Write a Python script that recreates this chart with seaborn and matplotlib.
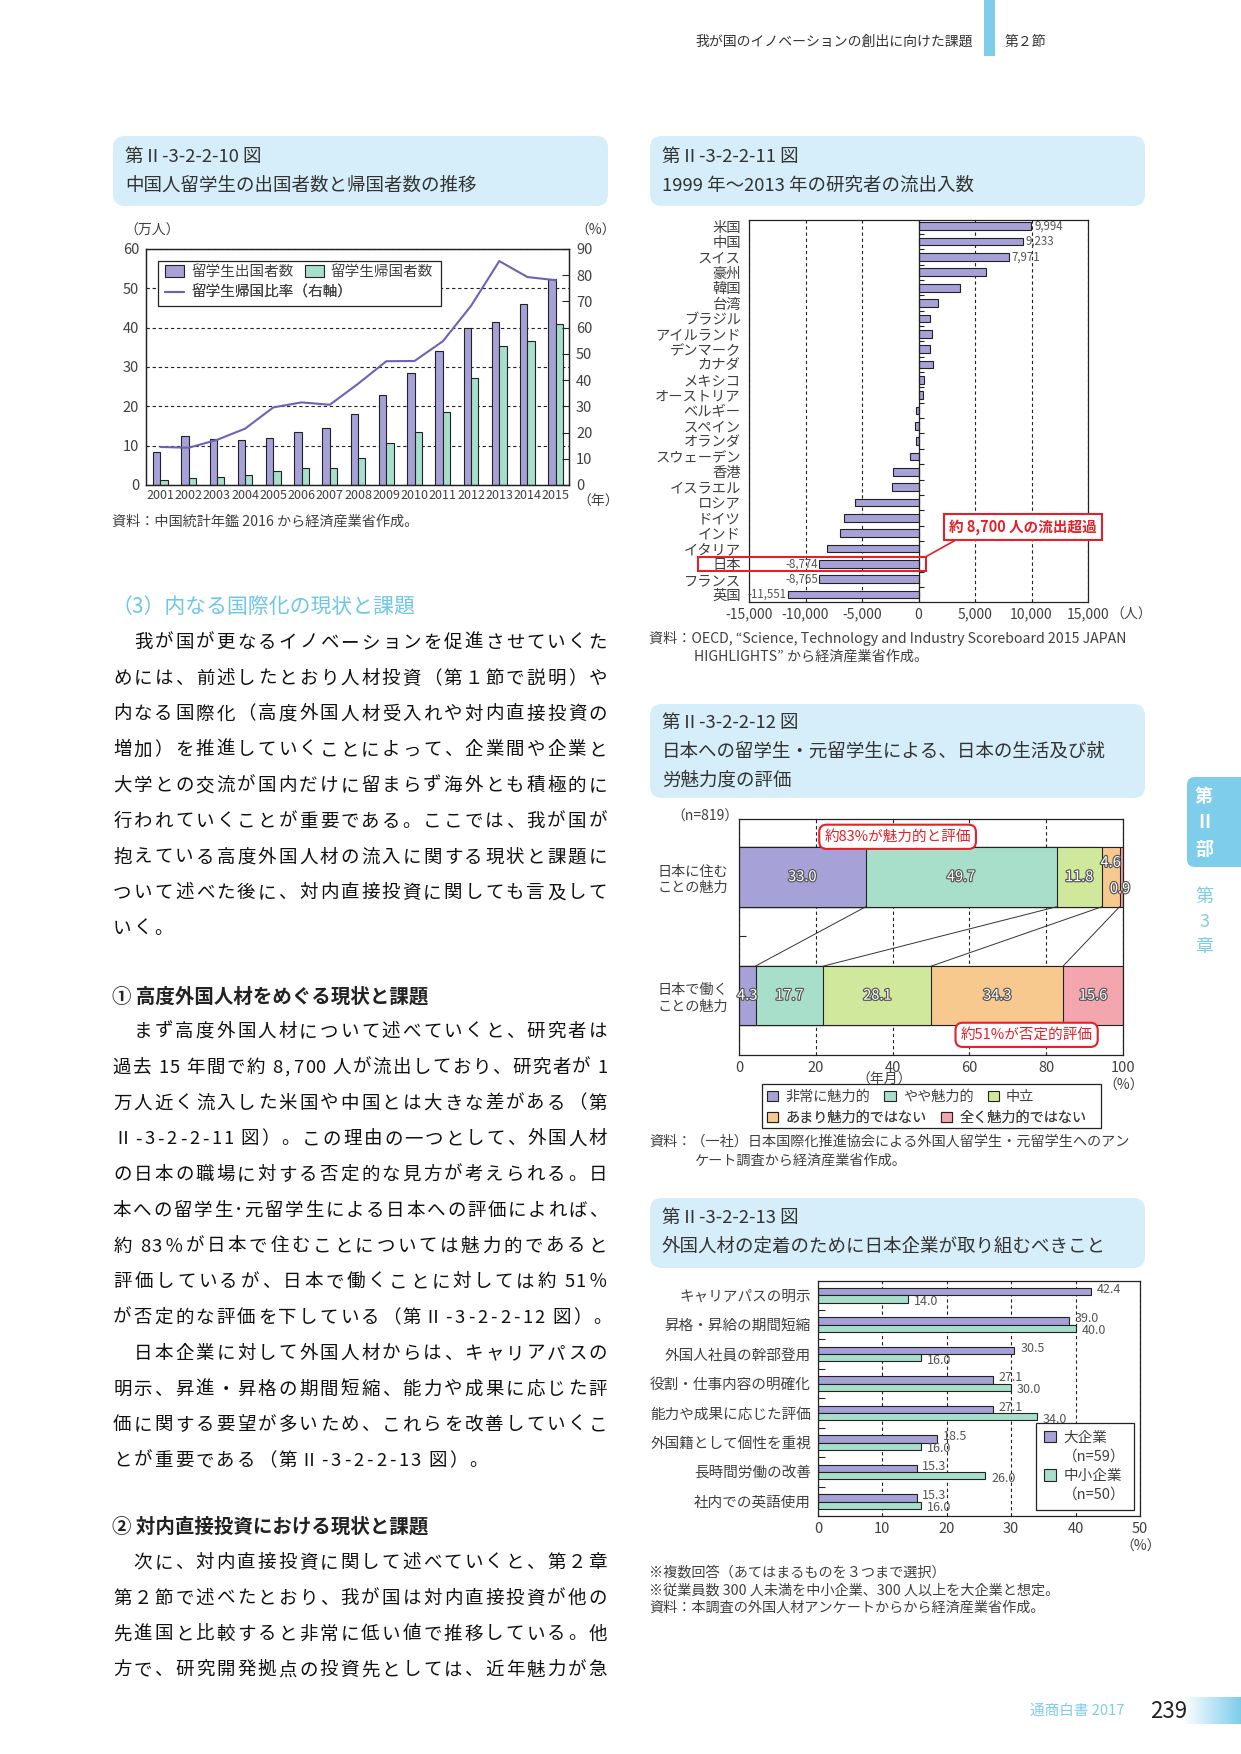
import numpy as np
import pandas as pd
import seaborn as sns
import matplotlib.pyplot as plt
import matplotlib.patheffects as pe
from matplotlib.patches import Patch, Rectangle, FancyBboxPatch
from matplotlib.lines import Line2D
from matplotlib.colors import LinearSegmentedColormap

# Стиль
sns.set_style("white")
plt.rcParams['font.family'] = ['Noto Sans CJK JP', 'DejaVu Sans']
plt.rcParams['axes.edgecolor'] = '#222222'
plt.rcParams['axes.linewidth'] = 0.9

# ---- данные: 第Ⅱ-3-2-2-10 図 ----
years = ['2001', '2002', '2003', '2004', '2005', '2006', '2007', '2008',
         '2009', '2010', '2011', '2012', '2013', '2014', '2015']
outbound = [8.4, 12.5, 11.7, 11.4, 11.9, 13.4, 14.4, 18.0, 22.9, 28.5, 34.0, 39.9, 41.4, 45.9, 52.3]
returned = [1.2, 1.8, 2.0, 2.5, 3.5, 4.2, 4.4, 6.9, 10.8, 13.5, 18.6, 27.3, 35.3, 36.5, 40.9]
return_ratio = [14.5, 14.2, 17.2, 21.5, 29.6, 31.5, 30.6, 38.6, 47.2, 47.3, 54.8, 68.3, 85.4, 79.3, 78.1]

# ---- данные: 第Ⅱ-3-2-2-11 図 ----
countries = ['米国', '中国', 'スイス', '豪州', '韓国', '台湾', 'ブラジル', 'アイルランド',
             'デンマーク', 'カナダ', 'メキシコ', 'オーストリア', 'ベルギー', 'スペイン',
             'オランダ', 'スウェーデン', '香港', 'イスラエル', 'ロシア', 'ドイツ', 'インド',
             'イタリア', '日本', 'フランス', '英国']
flows = [9994, 9233, 7971, 6000, 3700, 1750, 1030, 1210, 1030, 1300, 500, 410,
         -210, -300, -210, -740, -2250, -2340, -5600, -6600, -6950, -8100,
         -8774, -8765, -11551]
labeled = ['米国', '中国', 'スイス', '日本', 'フランス', '英国']

# ---- данные: 第Ⅱ-3-2-2-12 図 ----
items = ['日本に住む\nことの魅力', '日本で働く\nことの魅力']
levels = ['非常に魅力的', 'やや魅力的', '中立', 'あまり魅力的ではない', '全く魅力的ではない']
live = [33.0, 49.7, 11.8, 4.6, 0.9]
work = [4.3, 17.7, 28.1, 34.3, 15.6]

# ---- данные: 第Ⅱ-3-2-2-13 図 ----
measures = ['キャリアパスの明示', '昇格・昇給の期間短縮', '外国人社員の幹部登用',
            '役割・仕事内容の明確化', '能力や成果に応じた評価', '外国籍として個性を重視',
            '長時間労働の改善', '社内での英語使用']
large = [42.4, 39.0, 30.5, 27.1, 27.1, 18.5, 15.3, 15.3]
small = [14.0, 40.0, 16.0, 30.0, 34.0, 16.0, 26.0, 16.0]

# цвета
PURPLE = '#a6a2d8'
GREEN = '#a7dfcb'
LGREEN = '#cfe89c'
ORANGE = '#f8c98f'
PINK = '#f4a6ae'
LINE = '#6c62b8'
EDGE = '#222222'
RED = '#e5202a'
GRAY = '#404040'
TITLEBG = '#d6eef9'
BLUE = '#7dcdeb'
DASH = (0, (3, 2.5))

W, H = 1241, 1754
fig = plt.figure(figsize=(W / 100, H / 100), dpi=100)


def fx(x):
    return x / W


def fy(y):
    return 1 - y / H


def add_ax(x0, y0, x1, y1):
    return fig.add_axes([fx(x0), fy(y1), (x1 - x0) / W, (y1 - y0) / H])


def txt(x, y, s, size=10.2, color=GRAY, **kw):
    kw.setdefault('va', 'center')
    return fig.text(fx(x), fy(y), s, fontsize=size, color=color, **kw)


def box(x0, y0, x1, y1, fc='none', ec=EDGE, lw=0.9, r=0.0, ax=None):
    style = f'round,pad=0,rounding_size={r}' if r else 'square,pad=0'
    p = FancyBboxPatch((x0 / 100, (H - y1) / 100), (x1 - x0) / 100, (y1 - y0) / 100,
                       boxstyle=style, transform=fig.dpi_scale_trans,
                       fc=fc, ec=ec, lw=lw)
    if ax is None:
        fig.add_artist(p)
    else:
        # рамка легенды внутри осей, чтобы не закрывать саму легенду
        p.set_clip_on(False)
        p.set_zorder(4)
        ax.add_patch(p)
        p.set_transform(fig.dpi_scale_trans)


def title_box(x0, y0, x1, y1, lines, ys):
    box(x0, y0, x1, y1, fc=TITLEBG, ec='none', r=0.12)
    for s, y in zip(lines, ys):
        txt(x0 + 12, y, s, size=13.3, color='#333333')


def row_legend(ax, handles, labels, x, y, fs=10.2, hl=0.8, hh=0.8, colsp=1.0):
    leg = ax.legend(handles, labels, loc='center left', bbox_to_anchor=(fx(x), fy(y)),
                    bbox_transform=fig.transFigure, ncol=len(handles), frameon=False,
                    borderpad=0, borderaxespad=0, fontsize=fs, handlelength=hl,
                    handleheight=hh, handletextpad=0.5, columnspacing=colsp)
    for t in leg.get_texts():
        t.set_color(GRAY)
    leg.set_zorder(6)
    ax.add_artist(leg)
    return leg


# ---------------- шапка страницы ----------------
txt(973, 42, '我が国のイノベーションの創出に向けた課題', size=10, color='#333333', ha='right')
box(984, 0, 995, 56, fc=BLUE, ec='none')
txt(1005, 42, '第２節', size=10, color='#333333')

# боковая вкладка
box(1187, 777, 1260, 867, fc=BLUE, ec='none', r=0.08)
for s, y in zip(['第', 'Ⅱ', '部'], [797, 823, 850]):
    txt(1204, y, s, size=13, color='white', ha='center', fontweight='bold')
for s, y in zip(['第', '3', '章'], [897, 922, 947]):
    txt(1204, y, s, size=13, color=BLUE, ha='center')

# подвал
txt(1030, 1711, '通商白書 2017', size=10.5, color=BLUE)
txt(1150, 1711, '239', size=16, color='#222222')
axg = add_ax(1183, 1697, 1241, 1724)
axg.imshow(np.linspace(0, 1, 200)[None, :], aspect='auto',
           cmap=LinearSegmentedColormap.from_list('g', ['white', BLUE]))
axg.axis('off')

# ---------------- основной текст ----------------
PITCH = 496 / 24


def weight(c):
    if c == ' ':
        return 0.3
    if c == '･':
        return 0.5
    if ord(c) < 128:
        return 0.55
    return 1.0


def body_line(y, s, justify=True, x0=112, x1=608, size=13.3, color='#111111'):
    ws = [weight(c) for c in s]
    step = (x1 - x0) / sum(ws) if justify else PITCH
    x = x0
    for c, w in zip(s, ws):
        if c.strip():
            fig.text(fx(x + w * step / 2), fy(y), c, ha='center', va='center',
                     fontsize=size, color=color)
        x += w * step


def paragraph(y0, lines, last_justified=False):
    for i, s in enumerate(lines):
        last = i == len(lines) - 1
        body_line(y0 + i * 35.75, s, justify=(not last) or last_justified)


txt(112, 607, '（3）内なる国際化の現状と課題', size=15, color='#6ec6ea')
paragraph(643, [
    '　我が国が更なるイノベーションを促進させていくた',
    'めには、前述したとおり人材投資（第１節で説明）や',
    '内なる国際化（高度外国人材受入れや対内直接投資の',
    '増加）を推進していくことによって、企業間や企業と',
    '大学との交流が国内だけに留まらず海外とも積極的に',
    '行われていくことが重要である。ここでは、我が国が',
    '抱えている高度外国人材の流入に関する現状と課題に',
    'ついて述べた後に、対内直接投資に関しても言及して',
    'いく。'])

txt(112, 997, '① 高度外国人材をめぐる現状と課題', size=14, color='#222222', fontweight='bold')
paragraph(1032, [
    '　まず高度外国人材について述べていくと、研究者は',
    '過去 15 年間で約 8,700 人が流出しており、研究者が 1',
    '万人近く流入した米国や中国とは大きな差がある（第',
    'Ⅱ-3-2-2-11 図）。この理由の一つとして、外国人材',
    'の日本の職場に対する否定的な見方が考えられる。日',
    '本への留学生･元留学生による日本への評価によれば、',
    '約 83％が日本で住むことについては魅力的であると',
    '評価しているが、日本で働くことに対しては約 51％',
    'が否定的な評価を下している（第Ⅱ-3-2-2-12 図）。'])
paragraph(1032 + 9 * 35.75, [
    '　日本企業に対して外国人材からは、キャリアパスの',
    '明示、昇進・昇格の期間短縮、能力や成果に応じた評',
    '価に関する要望が多いため、これらを改善していくこ',
    'とが重要である（第Ⅱ-3-2-2-13 図）。'])

txt(112, 1527, '② 対内直接投資における現状と課題', size=14, color='#222222', fontweight='bold')
paragraph(1563, [
    '　次に、対内直接投資に関して述べていくと、第２章',
    '第２節で述べたとおり、我が国は対内直接投資が他の',
    '先進国と比較すると非常に低い値で推移している。他',
    '方で、研究開発拠点の投資先としては、近年魅力が急'], last_justified=True)

# ---------------- 第Ⅱ-3-2-2-10 図 ----------------
title_box(113, 136, 608, 206, ['第Ⅱ-3-2-2-10 図', '中国人留学生の出国者数と帰国者数の推移'], [157, 186])

ax1 = add_ax(146, 249, 569, 485)
df1 = pd.DataFrame({'year': years * 2,
                    'value': outbound + returned,
                    'kind': ['留学生出国者数'] * len(years) + ['留学生帰国者数'] * len(years)})
sns.barplot(data=df1, x='year', y='value', hue='kind', palette=[PURPLE, GREEN],
            saturation=1, width=0.52, edgecolor=EDGE, linewidth=0.8, ax=ax1, legend=False)
ax1.set_ylim(0, 60)
ax1.set_yticks(range(0, 61, 10))
ax1.set_axisbelow(True)
ax1.grid(axis='y', linestyle=DASH, color=EDGE, lw=0.8)
ax1.set_xlabel('')
ax1.set_ylabel('')
ax1.tick_params(axis='y', length=0, pad=5, labelsize=10.5, labelcolor=GRAY)
ax1.tick_params(axis='x', length=0, pad=3, labelsize=9, labelcolor=GRAY)

ax1b = ax1.twinx()
sns.lineplot(x=np.arange(len(years)), y=return_ratio, color=LINE, lw=1.5, ax=ax1b)
ax1b.set_ylim(0, 90)
ax1b.set_yticks(range(0, 91, 10))
ax1b.tick_params(axis='y', direction='in', length=5, width=0.8, pad=5, labelsize=10.5, labelcolor=GRAY)
ax1b.set_ylabel('')
ax1.set_xlim(-0.51, 14.47)
for a in (ax1, ax1b):
    for sp in a.spines.values():
        sp.set_color(EDGE)

txt(124, 231, '（万人）', size=10)
txt(596, 231, '（%）', size=10, ha='center')
txt(598, 502, '（年）', size=10, ha='center')
txt(112, 522, '資料：中国統計年鑑 2016 から経済産業省作成。')

box(158, 261, 441, 306, fc='white', ec=EDGE, lw=0.9, ax=ax1b)
row_legend(ax1b, [Patch(fc=PURPLE, ec=EDGE, lw=0.8), Patch(fc=GREEN, ec=EDGE, lw=0.8)],
           ['留学生出国者数', '留学生帰国者数'], 165, 272, fs=10.5, hl=1.3, colsp=0.75)
row_legend(ax1b, [Line2D([], [], color=LINE, lw=1.5)], ['留学生帰国比率（右軸）'],
           165, 293, fs=10.5, hl=1.3)

# ---------------- 第Ⅱ-3-2-2-11 図 ----------------
title_box(650, 136, 1145, 206, ['第Ⅱ-3-2-2-11 図', '1999 年～2013 年の研究者の流出入数'], [157, 186])

ax2 = add_ax(749, 220, 1088, 602)
df2 = pd.DataFrame({'country': countries, 'flow': flows})
sns.barplot(data=df2, x='flow', y='country', orient='h', color=PURPLE, saturation=1,
            width=0.5, edgecolor=EDGE, linewidth=0.8, ax=ax2)
ax2.set_xlim(-15000, 15000)
ax2.set_ylim(len(countries) - 0.52, -0.41)
ticks2 = list(range(-15000, 15001, 5000))
ax2.set_xticks(ticks2)
ax2.set_xticklabels([f'{v:,}' for v in ticks2])
ax2.set_axisbelow(True)
ax2.grid(axis='x', linestyle=DASH, color=EDGE, lw=0.8)
ax2.axvline(0, color=EDGE, lw=0.9)
ax2.hlines(np.arange(1, len(countries)) - 0.5, 0, 450, color=EDGE, lw=0.8)
ax2.set_xlabel('')
ax2.set_ylabel('')
ax2.tick_params(axis='y', length=0, pad=6, labelsize=10.3, labelcolor=GRAY)
ax2.tick_params(axis='x', length=0, pad=4, labelsize=10, labelcolor=GRAY)
for c, v in zip(countries, flows):
    if c in labeled:
        i = countries.index(c)
        if v > 0:
            ax2.text(v + 250, i, f'{v:,}', ha='left', va='center', fontsize=8.3, color='#555555')
        else:
            ax2.text(v - 150, i, f'{v:,}', ha='right', va='center', fontsize=8.3, color='#555555')
ax2.annotate('（人）', xy=(1, 0), xycoords='axes fraction', xytext=(16, -8.8),
             textcoords='offset points', ha='left', va='center', fontsize=10, color=GRAY,
             annotation_clip=False)

jp = countries.index('日本')
ax2.add_patch(Rectangle((-19500, jp - 0.48), 20170, 0.96, fill=False, ec=RED, lw=1.5,
                        clip_on=False, zorder=6))
ax2.plot([670, 3300], [jp - 0.48, 20.44], color=RED, lw=1.2, clip_on=False, zorder=6)
ax2.text(9250, 19.6, '約 8,700 人の流出超過', ha='center', va='center', fontsize=10.5,
         fontweight='bold', color=RED, zorder=7,
         bbox=dict(boxstyle='square,pad=0.35', fc='white', ec=RED, lw=1.5))

txt(649, 638, '資料：OECD, “Science, Technology and Industry Scoreboard 2015 JAPAN')
txt(694, 657, 'HIGHLIGHTS” から経済産業省作成。')

# ---------------- 第Ⅱ-3-2-2-12 図 ----------------
title_box(650, 704, 1145, 798,
          ['第Ⅱ-3-2-2-12 図', '日本への留学生・元留学生による、日本の生活及び就', '労魅力度の評価'],
          [723, 752, 781])

ax3 = add_ax(739, 819, 1123, 1055)
colors5 = [PURPLE, GREEN, LGREEN, ORANGE, PINK]
cum_live = np.cumsum(live)
cum_work = np.cumsum(work)
# накопленные суммы рисуем от последней к первой
for k in reversed(range(len(levels))):
    dfk = pd.DataFrame({'item': items, 'cum': [cum_live[k], cum_work[k]]})
    sns.barplot(data=dfk, x='cum', y='item', orient='h', color=colors5[k], saturation=1,
                width=0.5, edgecolor=EDGE, linewidth=0.8, ax=ax3)
ax3.set_xlim(0, 100)
ax3.set_ylim(1.5, -0.49)
ax3.set_xticks(range(0, 101, 20))
ax3.set_axisbelow(True)
ax3.grid(axis='x', linestyle=DASH, color=EDGE, lw=0.8)
ax3.set_xlabel('')
ax3.set_ylabel('')
ax3.set_yticks([0.5], minor=True)
ax3.tick_params(axis='y', which='major', length=0, pad=8, labelsize=10.2, labelcolor=GRAY)
ax3.tick_params(axis='y', which='minor', direction='in', length=5, width=0.8, left=True)
ax3.tick_params(axis='x', length=0, pad=4, labelsize=10.5, labelcolor=GRAY)
for k in range(len(levels) - 1):
    ax3.plot([cum_live[k], cum_work[k]], [0.25, 0.75], color='#333333', lw=0.7)

stroke = [pe.withStroke(linewidth=1.7, foreground='#555555')]
live_dx = [0, 0, 0, 0, -0.3]
live_dy = [0, 0, 0, -0.12, 0.1]
for k, v in enumerate(live):
    ax3.text(cum_live[k] - v / 2 + live_dx[k], live_dy[k], f'{v:.1f}', ha='center', va='center',
             fontsize=10.5, color='white', path_effects=stroke, zorder=5)
for k, v in enumerate(work):
    ax3.text(cum_work[k] - v / 2, 1, f'{v:.1f}', ha='center', va='center',
             fontsize=10.5, color='white', path_effects=stroke, zorder=5)

ax3.text(41.3, -0.34, '約83%が魅力的と評価', ha='center', va='center', fontsize=10.5,
         color=RED, zorder=6,
         bbox=dict(boxstyle='round,pad=0.35,rounding_size=0.5', fc='white', ec=RED, lw=1.5))
ax3.text(74.9, 1.33, '約51%が否定的評価', ha='center', va='center', fontsize=10.5,
         color=RED, zorder=6, clip_on=False,
         bbox=dict(boxstyle='round,pad=0.35,rounding_size=0.5', fc='white', ec=RED, lw=1.5))

txt(671, 817, '（n=819）', size=10)
txt(884, 1080, '（年月）', size=10, ha='center')
txt(1124, 1086, '（%）', size=10, ha='center')

box(762, 1084, 1101, 1128, fc='none', ec=EDGE, lw=0.9, ax=ax3)
h5 = [Patch(fc=c, ec=EDGE, lw=0.8) for c in colors5]
row_legend(ax3, h5[:3], levels[:3], 767, 1097)
row_legend(ax3, h5[3:], levels[3:], 767, 1118)

txt(649, 1142, '資料：（一社）日本国際化推進協会による外国人留学生・元留学生へのアン')
txt(694, 1161, 'ケート調査から経済産業省作成。')

# ---------------- 第Ⅱ-3-2-2-13 図 ----------------
title_box(650, 1198, 1145, 1268,
          ['第Ⅱ-3-2-2-13 図', '外国人材の定着のために日本企業が取り組むべきこと'], [1218, 1247])

ax4 = add_ax(818, 1281, 1140, 1516)
df4 = pd.DataFrame({'measure': measures * 2,
                    'pct': large + small,
                    'size': ['大企業'] * len(measures) + ['中小企業'] * len(measures)})
sns.barplot(data=df4, x='pct', y='measure', hue='size', orient='h', palette=[PURPLE, GREEN],
            saturation=1, width=0.5, edgecolor=EDGE, linewidth=0.8, ax=ax4, legend=False)
ax4.set_xlim(0, 50)
ax4.set_ylim(len(measures) - 0.51, -0.48)
ax4.set_xticks(range(0, 51, 10))
ax4.set_axisbelow(True)
ax4.grid(axis='x', linestyle=DASH, color=EDGE, lw=0.8)
ax4.set_xlabel('')
ax4.set_ylabel('')
ax4.set_yticks(np.arange(len(measures) - 1) + 0.5, minor=True)
ax4.tick_params(axis='y', which='major', length=0, pad=5, labelsize=10.5, labelcolor=GRAY)
ax4.tick_params(axis='y', which='minor', direction='in', length=5, width=0.8, left=True)
ax4.tick_params(axis='x', length=0, pad=4, labelsize=10.5, labelcolor=GRAY)
for i, (a, b) in enumerate(zip(large, small)):
    ax4.text(a + 0.9, i - 0.125 - 0.08, f'{a:.1f}', ha='left', va='center', fontsize=9, color='#555555')
    ax4.text(b + 0.9, i + 0.125 + 0.08, f'{b:.1f}', ha='left', va='center', fontsize=9, color='#555555')

blank = Patch(fc='none', ec='none')
leg4 = ax4.legend([Patch(fc=PURPLE, ec=EDGE, lw=0.8), blank, Patch(fc=GREEN, ec=EDGE, lw=0.8), blank],
                  ['大企業', '（n=59）', '中小企業', '（n=50）'],
                  loc='lower right', bbox_to_anchor=(fx(1134), fy(1510)), bbox_transform=fig.transFigure,
                  fontsize=10.5, handlelength=0.85, handleheight=0.85, handletextpad=0.5,
                  labelspacing=0.35, borderpad=0.55, borderaxespad=0, fancybox=False,
                  edgecolor=EDGE, framealpha=1)
leg4.get_frame().set_linewidth(0.9)
for t in leg4.get_texts():
    t.set_color(GRAY)

txt(1141, 1547, '（%）', size=10, ha='center')
txt(649, 1572, '※複数回答（あてはまるものを３つまで選択）')
txt(649, 1590, '※従業員数 300 人未満を中小企業、300 人以上を大企業と想定。')
txt(649, 1608, '資料：本調査の外国人材アンケートからから経済産業省作成。')

fig.savefig('out.png', dpi=100)
